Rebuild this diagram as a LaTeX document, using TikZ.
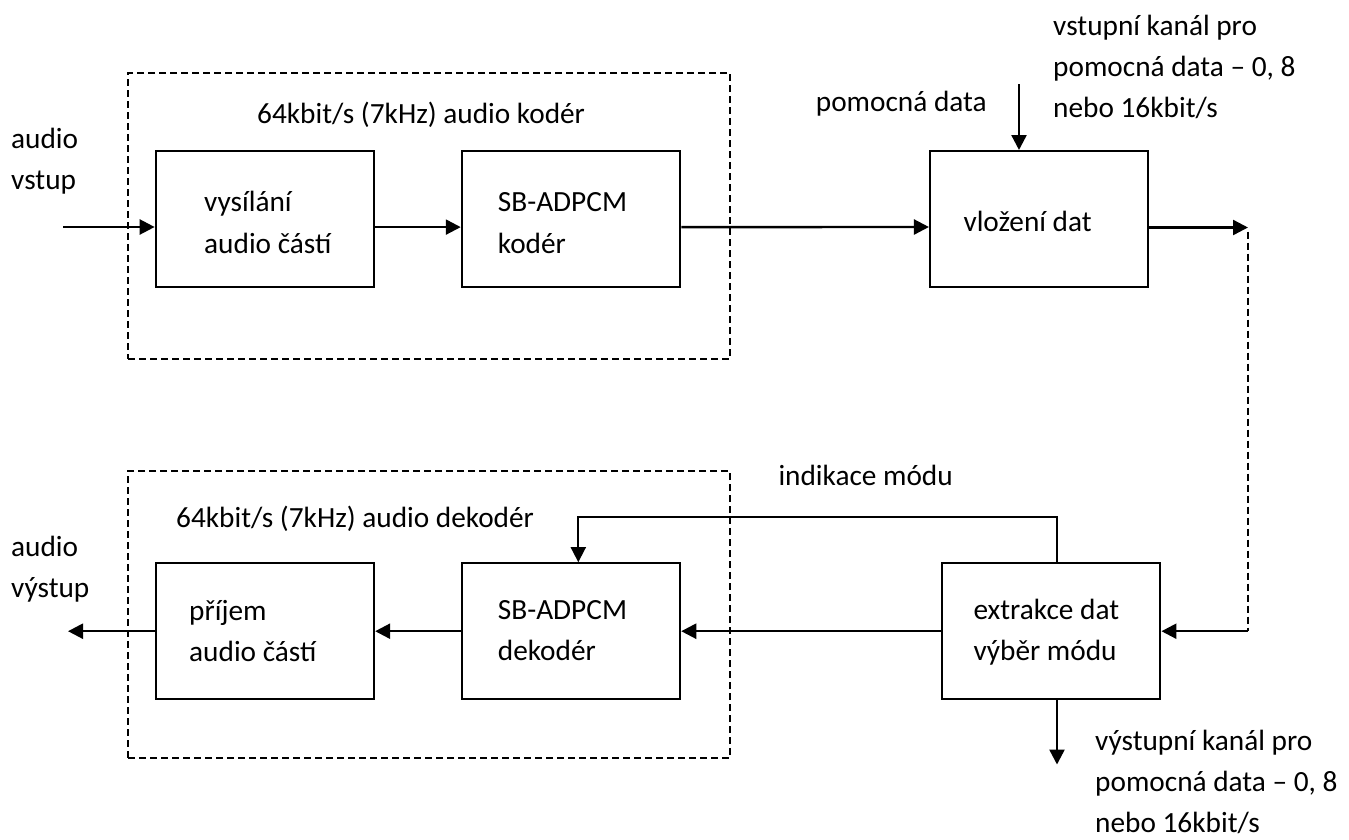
\documentclass[tikz,border=0pt]{standalone}
\usepackage{fontspec}
\setmainfont{Carlito}
\usetikzlibrary{arrows.meta}
% multi-line labels whose base anchor is the baseline of the first line
\newcommand\twoln[2]{\vtop{\hbox{#1}\hbox{#2}}}
\newcommand\threeln[3]{\vtop{\hbox{#1}\hbox{#2}\hbox{#3}}}
\begin{document}
\begin{tikzpicture}[x=1pt,y=-1pt,
  blk/.style={draw=black,line width=2pt,rectangle,inner sep=0pt,
              minimum width=218.5pt,minimum height=136pt},
  lbl/.style={anchor=base west,inner sep=0pt,font=\fontsize{29.3}{41.3}\selectfont},
  grp/.style={draw=black,line width=1.4pt,dash pattern=on 7pt off 4pt,rectangle,inner sep=0pt},
  arr/.style={line width=2.4pt,-{Triangle[length=15pt,width=15pt]}},
  thinarr/.style={line width=1.8pt,-{Triangle[length=15pt,width=15pt]}},
  dashlink/.style={line width=1.4pt,dash pattern=on 7pt off 4pt}]
\useasboundingbox (0,0) rectangle (1349,839);

% dashed frames of the coder and the decoder
\node[grp,minimum width=602pt,minimum height=286pt] (encgrp) at (429,216) {};
\node[grp,minimum width=602pt,minimum height=287pt] (decgrp) at (429,614.5) {};

% transmit chain
\node[blk] (vys) at (264.9,219.1) {};
\node[blk] (kod) at (571,219.1) {};
\node[blk] (vloz) at (1039.2,219) {};
% receive chain
\node[blk] (prij) at (264.9,631.2) {};
\node[blk] (dek) at (571,631.2) {};
\node[blk] (extr) at (1051.2,631.2) {};

% texts inside the blocks
\node[lbl] (tvys) at (204,211.7) {\twoln{vysílání}{audio částí}};
\node[lbl] (tkod) at (497.7,211.7) {\twoln{SB-ADPCM}{kodér}};
\node[lbl] (tvloz) at (963.3,231.7) {vložení dat};
\node[lbl] (tprij) at (189,620) {\twoln{příjem}{audio částí}};
\node[lbl] (tdek) at (497.7,619.5) {\twoln{SB-ADPCM}{dekodér}};
\node[lbl] (textr) at (973.3,619.5) {\twoln{extrakce dat}{výběr módu}};

% free texts
\node[lbl] (lin) at (11,148) {\twoln{audio}{vstup}};
\node[lbl] (lenc) at (257,123) {64kbit/s (7kHz) audio kodér};
\node[lbl] (laux) at (815.7,111.7) {pomocná data};
\node[lbl] (lauxin) at (1053,35) {\threeln{vstupní kanál pro}{pomocná data – 0, 8}{nebo 16kbit/s}};
\node[lbl] (lout) at (11,556) {\twoln{audio}{výstup}};
\node[lbl] (ldec) at (176,527) {64kbit/s (7kHz) audio dekodér};
\node[lbl] (lmode) at (778.3,485.7) {indikace módu};
\node[lbl] (lauxout) at (1095,750) {\threeln{výstupní kanál pro}{pomocná data – 0, 8}{nebo 16kbit/s}};

% free ends of the connectors
\coordinate (audioin) at (63,227);
\coordinate (audioout) at (68,631.2);
\coordinate (auxin) at (1019,84);
\coordinate (auxout) at (1057,764.5);
\coordinate (chtop) at (1248,227.5);
\coordinate (chbot) at (1248,631.2);
\coordinate (modeA) at (1057,517.3);
\coordinate (modeB) at (578.3,517.3);

% transmit connectors
\draw[arr] (audioin) -- (audioin -| vys.west);
\draw[arr] ([yshift=-8pt]vys.east) -- ([yshift=-8pt]kod.west);
\draw[arr] ([yshift=-8pt]kod.east) -- ([yshift=-8pt]vloz.west);
\draw[arr] (auxin) -- (auxin |- vloz.north);
\draw[arr] (chtop -| vloz.east) -- (chtop);

% channel
\draw[dashlink] ([yshift=-4pt]chtop) -- (chbot);

% receive connectors
\draw[arr] (chbot) -- (extr.east);
\draw[arr] (extr.west) -- (dek.east);
\draw[arr] (dek.west) -- (prij.east);
\draw[arr] (prij.west) -- (audioout);
\draw[arr] (auxout |- extr.south) -- (auxout);
\draw[thinarr] (modeA |- extr.north) -- (modeA) -- (modeB) -- (modeB |- dek.north);
\end{tikzpicture}
\end{document}
